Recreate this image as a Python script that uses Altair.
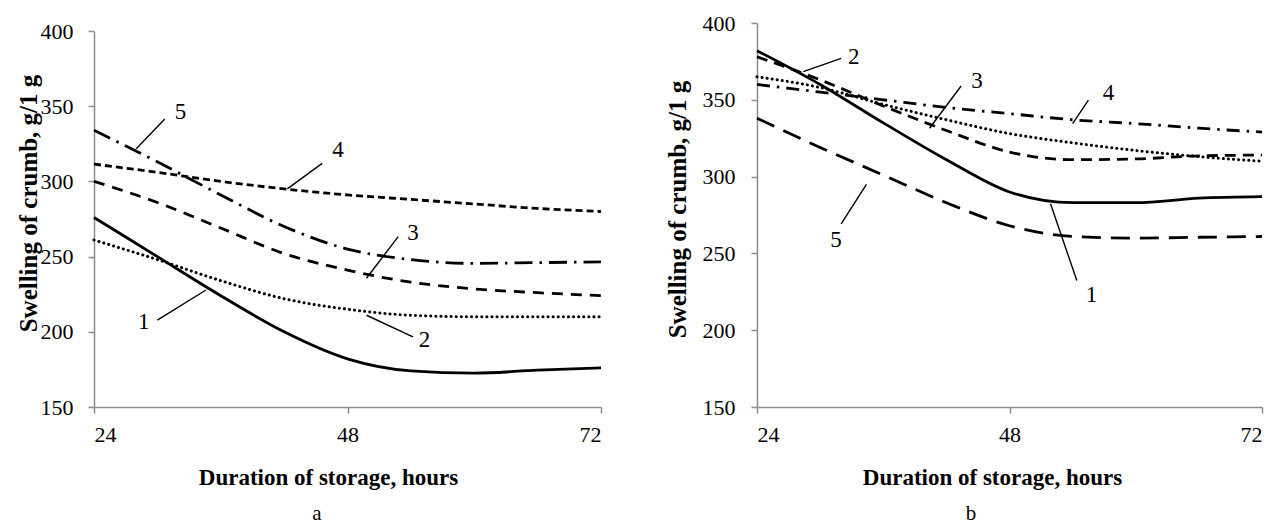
import altair as alt
import pandas as pd

FONT = "Liberation Serif"

hours = [24, 30, 36, 42, 48, 54, 60, 66, 72]
series = ["1", "2", "3", "4", "5"]

# Panel a
a_1 = [276, 250, 224, 200, 182, 174, 172.5, 174.5, 176]
a_2 = [261, 248, 234, 222, 215, 211, 210, 210, 210]
a_3 = [300, 286, 269, 252, 241, 233, 228.5, 226, 224]
a_4 = [311.5, 306, 300, 295, 291, 288, 285, 282, 280]
a_5 = [334, 313, 291, 270, 255, 248, 245.5, 246, 246.5]

# Panel b
b_1 = [382, 360, 335, 311, 290, 283, 283, 286, 287]
b_2 = [365, 358, 347, 337, 328, 322, 317, 313, 310]
b_3 = [378, 363, 346, 330, 316, 311, 311.5, 313.5, 314]
b_4 = [360, 355, 350, 345, 341, 337, 334.5, 331.5, 329]
b_5 = [338, 319, 301, 283, 268, 261, 260, 260.5, 261]

# curve labels (hour, value) and leader lines (hour1, value1, hour2, value2)
a_lab_text = ["5", "4", "3", "2", "1"]
a_lab_h = [32.2, 47.1, 54.2, 55.3, 28.7]
a_lab_v = [346, 321, 265.6, 194.4, 206.7]
a_lead_h1 = [28.0, 42.3, 49.8, 49.8, 34.6]
a_lead_v1 = [321.7, 295, 235.6, 211, 227.8]
a_lead_h2 = [30.7, 45.6, 52.8, 54.2, 30.0]
a_lead_v2 = [341.5, 312, 263.3, 196.7, 207.8]

b_lab_text = ["2", "3", "4", "5", "1"]
b_lab_h = [33.2, 44.9, 57.4, 31.5, 55.8]
b_lab_v = [377.6, 362.4, 354.7, 259, 223.2]
b_lead_h1 = [28.4, 40.4, 54.0, 34.4, 51.9]
b_lead_v1 = [368.4, 331.5, 334.5, 295, 282.3]
b_lead_h2 = [32.0, 43.4, 55.5, 32.0, 54.4]
b_lead_v2 = [377, 359, 349.8, 269.3, 232.3]

x_ticks = [24, 48, 72]
y_ticks = [150, 200, 250, 300, 350, 400]

style_a = {
    "1": dict(strokeWidth=2.8),
    "2": dict(strokeWidth=3, strokeDash=[0.1, 5], strokeCap="round"),
    "3": dict(strokeWidth=2.8, strokeDash=[11, 8]),
    "4": dict(strokeWidth=2.8, strokeDash=[7, 4]),
    "5": dict(strokeWidth=2.8, strokeDash=[18, 7, 2.5, 7]),
}
style_b = {
    "1": dict(strokeWidth=2.8),
    "2": dict(strokeWidth=3, strokeDash=[0.1, 5], strokeCap="round"),
    "3": dict(strokeWidth=2.8, strokeDash=[11, 7]),
    "4": dict(strokeWidth=2.8, strokeDash=[13, 7, 2.5, 7]),
    "5": dict(strokeWidth=2.8, strokeDash=[19, 10]),
}

H = 384


def panel(vals, styles, w, top, lab_t, lab_h, lab_v, l_h1, l_v1, l_h2, l_v2,
          letter, letter_x, letter_dy, title_x, title_y, xtitle_x, ypad):
    xs = alt.Scale(domain=[24, 72], nice=False, zero=False)
    ys = alt.Scale(domain=[150, 400], nice=False, zero=False, range=[H, top])
    xax = alt.Axis(values=x_ticks, title="Duration of storage, hours",
                   titleX=xtitle_x, titleAlign="center",
                   titleY=70, titleBaseline="middle", labelPadding=11)
    yax = alt.Axis(values=y_ticks, title="Swelling of crumb, g/1 g",
                   titleX=title_x, titleY=title_y, titleAngle=270,
                   titleFontSize=25,
                   titleBaseline="middle", titleAlign="center", labelPadding=ypad)
    layers = []
    for i, (name, v) in enumerate(zip(series, vals)):
        df = pd.DataFrame({"hour": hours, "value": v})
        st = styles[name]
        mk = alt.Chart(df).mark_line(color="black", interpolate="monotone", **st)
        if i == 0:
            enc = mk.encode(x=alt.X("hour:Q", scale=xs, axis=xax),
                            y=alt.Y("value:Q", scale=ys, axis=yax))
        else:
            enc = mk.encode(x=alt.X("hour:Q", scale=xs), y=alt.Y("value:Q", scale=ys))
        layers.append(enc)
    lead = pd.DataFrame({"h1": l_h1, "v1": l_v1, "h2": l_h2, "v2": l_v2})
    layers.append(alt.Chart(lead).mark_rule(color="black", strokeWidth=1.4).encode(
        x=alt.X("h1:Q", scale=xs), y=alt.Y("v1:Q", scale=ys), x2="h2:Q", y2="v2:Q"))
    lab = pd.DataFrame({"t": lab_t, "h": lab_h, "v": lab_v})
    layers.append(alt.Chart(lab).mark_text(font=FONT, fontSize=23, color="black",
                                           align="center", baseline="middle").encode(
        x=alt.X("h:Q", scale=xs), y=alt.Y("v:Q", scale=ys), text="t:N"))
    let = pd.DataFrame({"t": [letter]})
    layers.append(alt.Chart(let).mark_text(font=FONT, fontSize=21, color="black",
                                           align="center", baseline="middle").encode(
        x=alt.value(letter_x), y=alt.value(H + letter_dy), text="t:N"))
    return alt.layer(*layers).properties(width=w, height=H)


pa = panel([a_1, a_2, a_3, a_4, a_5], style_a, 507, 8,
           a_lab_text, a_lab_h, a_lab_v, a_lead_h1, a_lead_v1, a_lead_h2, a_lead_v2,
           "a", 223, 107, -66, 180, 234, 15)
pb = panel([b_1, b_2, b_3, b_4, b_5], style_b, 505, 0,
           b_lab_text, b_lab_h, b_lab_v, b_lead_h1, b_lead_v1, b_lead_h2, b_lead_v2,
           "b", 214, 107, -80, 186, 235, 16)

chart = alt.hconcat(pa, pb, spacing=58).properties(
    padding={"left": 8, "top": 4, "right": 0, "bottom": 0}
).configure_view(stroke=None).configure_axis(
    grid=False,
    domainColor="#8c8c8c", domainWidth=1.5,
    tickColor="#8c8c8c", tickWidth=1.5, tickSize=6,
    labelFont=FONT, labelFontSize=22, labelColor="black",
    titleFont=FONT, titleFontSize=23, titleFontWeight="bold", titleColor="black",
)

chart.save("out.html", embed_options={"renderer": "svg", "actions": False})
